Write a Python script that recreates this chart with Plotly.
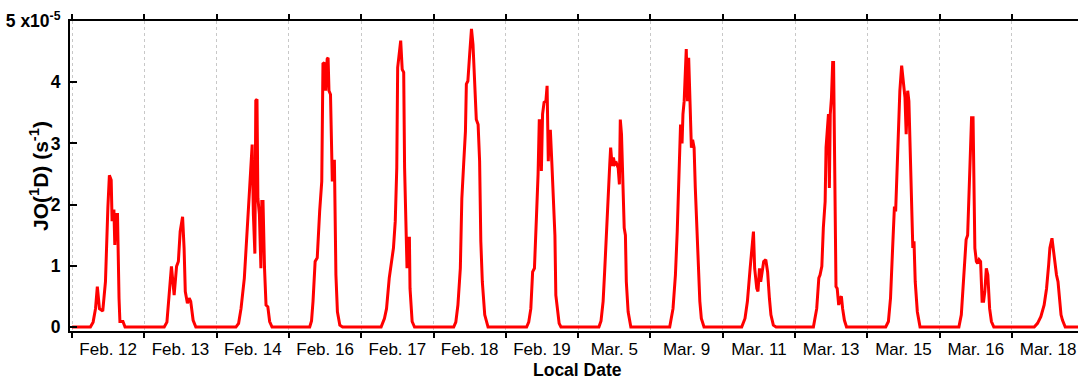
import plotly.graph_objects as go

# Day labels (categorical days, concatenated)
day_labels = ["Feb. 12", "Feb. 13", "Feb. 14", "Feb. 16", "Feb. 17", "Feb. 18", "Feb. 19",
              "Mar. 5", "Mar. 9", "Mar. 11", "Mar. 13", "Mar. 15", "Mar. 16", "Mar. 18"]

# Local hour of day and JO(1D) in units of 1e-5 s^-1
feb12_h = [0, 6.1, 7.0, 7.8, 8.4, 9.1, 10.2, 11.1, 11.9, 12.4, 13.0, 13.3, 13.9, 14.2, 14.6, 15.1, 15.6, 15.9, 16.9, 17.6, 24]
feb12_v = [0, 0, 0.08, 0.3, 0.66, 0.3, 0.26, 0.74, 1.95, 2.48, 2.4, 1.73, 1.92, 1.34, 1.84, 1.84, 0.47, 0.09, 0.09, 0, 0]

feb13_h = [0, 6.6, 7.5, 8.2, 9.0, 9.9, 10.7, 11.3, 11.9, 12.7, 13.2, 13.6, 14.3, 14.9, 15.4, 16.2, 17.1, 24]
feb13_v = [0, 0, 0.08, 0.58, 0.99, 0.52, 0.99, 1.07, 1.56, 1.8, 1.29, 0.58, 0.39, 0.47, 0.42, 0.11, 0, 0]

feb14_h = [0, 6.4, 7.3, 8.1, 9.2, 10.0, 10.9, 11.8, 12.2, 12.7, 13.0, 13.4, 13.7, 14.2, 14.7, 15.0, 15.4, 15.9, 16.4, 17.0, 17.6, 18.4, 24]
feb14_v = [0, 0, 0.06, 0.3, 0.8, 1.4, 2.22, 2.98, 1.84, 1.2, 3.7, 3.72, 2.1, 1.84, 0.96, 2.05, 2.05, 0.96, 0.36, 0.33, 0.09, 0, 0]

feb16_h = [0, 6.9, 7.5, 8.0, 8.7, 9.4, 10.2, 10.9, 11.3, 11.8, 12.2, 12.7, 13.0, 13.3, 13.8, 14.4, 14.8, 15.1, 15.6, 16.1, 16.9, 17.8, 24]
feb16_v = [0, 0, 0.1, 0.42, 1.07, 1.13, 1.89, 2.38, 4.3, 4.32, 3.86, 4.38, 4.4, 3.86, 3.8, 2.38, 2.71, 2.71, 0.85, 0.25, 0.03, 0, 0]

feb17_h = [0, 6.6, 7.7, 8.4, 9.3, 9.9, 10.7, 11.3, 11.8, 12.1, 12.7, 13.1, 13.6, 14.1, 14.4, 14.9, 15.2, 15.6, 16.0, 16.2, 16.9, 17.7, 24]
feb17_v = [0, 0, 0.14, 0.3, 0.8, 1.04, 1.29, 1.73, 2.6, 4.24, 4.46, 4.68, 4.21, 4.16, 2.6, 1.48, 0.96, 1.45, 1.45, 0.63, 0.09, 0, 0]

feb18_h = [0, 6.7, 7.4, 8.1, 8.9, 9.4, 10.0, 10.6, 10.9, 11.4, 12.0, 12.6, 13.1, 13.7, 14.2, 14.8, 15.3, 15.7, 16.2, 17.0, 18.1, 24]
feb18_v = [0, 0, 0.08, 0.36, 0.96, 2.1, 2.66, 3.2, 3.97, 4.02, 4.46, 4.87, 4.62, 4.02, 3.39, 3.31, 2.71, 1.4, 0.74, 0.2, 0, 0]

feb19_h = [0, 6.9, 7.6, 8.3, 8.9, 9.5, 10.2, 10.7, 11.1, 11.5, 11.8, 12.2, 12.7, 13.3, 13.7, 14.1, 14.4, 14.8, 15.3, 15.7, 16.3, 16.6, 17.1, 17.7, 18.3, 24]
feb19_v = [0, 0, 0.08, 0.3, 0.9, 0.96, 1.84, 2.49, 3.37, 3.37, 2.55, 3.48, 3.67, 3.69, 3.94, 2.71, 3.2, 3.2, 2.66, 2.1, 1.5, 0.52, 0.3, 0.06, 0, 0]

mar05_h = [0, 6.9, 7.6, 8.3, 8.8, 9.4, 10.0, 10.5, 10.8, 11.3, 11.7, 12.2, 12.7, 13.3, 13.7, 14.0, 14.4, 14.8, 15.3, 15.7, 16.0, 16.6, 17.5, 24]
mar05_v = [0, 0, 0.1, 0.42, 0.9, 1.62, 2.05, 2.66, 2.93, 2.63, 2.77, 2.66, 2.68, 2.6, 2.33, 3.39, 3.15, 2.38, 1.62, 1.5, 0.74, 0.25, 0, 0]

mar09_h = [0, 6.4, 7.5, 8.3, 8.9, 9.4, 10.0, 10.5, 10.8, 11.2, 11.5, 11.9, 12.3, 12.7, 13.1, 13.6, 14.0, 14.5, 14.9, 15.4, 15.8, 16.4, 16.9, 17.8, 24]
mar09_v = [0, 0, 0.3, 0.85, 1.56, 2.38, 3.31, 3.0, 3.48, 3.69, 4.19, 4.54, 3.69, 4.4, 3.75, 2.93, 3.06, 2.93, 2.27, 1.56, 0.96, 0.42, 0.14, 0, 0]

mar11_h = [0, 6.3, 7.4, 8.2, 9.1, 9.7, 10.2, 10.6, 11.3, 11.7, 12.2, 12.6, 13.1, 13.6, 14.3, 14.9, 15.5, 16.0, 16.8, 17.7, 24]
mar11_v = [0, 0, 0.14, 0.42, 0.96, 1.34, 1.56, 0.96, 0.63, 0.58, 0.96, 0.74, 0.9, 1.07, 1.1, 0.9, 0.47, 0.2, 0.03, 0, 0]

mar13_h = [0, 6.1, 7.2, 7.9, 8.3, 8.9, 9.4, 10.0, 10.3, 10.7, 11.1, 11.4, 11.7, 12.1, 12.5, 12.8, 13.2, 13.4, 13.6, 14.0, 14.5, 14.9, 15.4, 15.8, 16.4, 17.1, 24]
mar13_v = [0, 0, 0.3, 0.8, 0.85, 0.99, 1.62, 2.05, 2.93, 3.31, 3.48, 2.27, 3.48, 3.75, 4.32, 4.32, 2.66, 1.34, 0.66, 0.63, 0.36, 0.47, 0.5, 0.3, 0.11, 0, 0]

mar15_h = [0, 6.1, 7.0, 7.7, 8.4, 8.6, 9.0, 9.4, 9.8, 10.3, 10.8, 11.4, 12.0, 12.5, 12.9, 13.4, 13.8, 14.2, 14.7, 15.1, 15.5, 15.9, 16.6, 17.5, 24]
mar15_v = [0, 0, 0.09, 0.47, 1.29, 1.62, 1.97, 1.89, 2.38, 3.09, 3.86, 4.27, 4.02, 3.75, 3.15, 3.86, 3.69, 2.93, 2.38, 1.29, 1.4, 0.74, 0.25, 0, 0]

mar16_h = [0, 6.4, 7.2, 7.7, 8.3, 8.8, 9.3, 9.7, 10.2, 10.6, 11.1, 11.4, 11.7, 12.2, 12.6, 13.1, 13.6, 14.1, 14.6, 15.0, 15.5, 16.0, 16.6, 17.2, 18.0, 24]
mar16_v = [0, 0, 0.2, 0.63, 1.07, 1.43, 1.5, 2.22, 2.93, 3.42, 3.42, 2.66, 1.29, 1.07, 1.04, 1.1, 1.07, 0.42, 0.42, 0.58, 0.96, 0.85, 0.3, 0.09, 0, 0]

mar18_h = [0, 7.4, 8.5, 9.6, 10.7, 11.5, 12.2, 12.6, 13.3, 13.7, 14.3, 14.8, 15.3, 15.7, 16.3, 16.8, 17.7, 24]
mar18_v = [0, 0, 0.06, 0.17, 0.36, 0.63, 1.02, 1.29, 1.45, 1.29, 0.96, 0.85, 0.74, 0.47, 0.2, 0.11, 0, 0]

day_hours = [feb12_h, feb13_h, feb14_h, feb16_h, feb17_h, feb18_h, feb19_h,
             mar05_h, mar09_h, mar11_h, mar13_h, mar15_h, mar16_h, mar18_h]
day_values = [feb12_v, feb13_v, feb14_v, feb16_v, feb17_v, feb18_v, feb19_v,
              mar05_v, mar09_v, mar11_v, mar13_v, mar15_v, mar16_v, mar18_v]

y_tick_vals = [0, 1, 2, 3, 4, 5]
y_tick_text = ["0", "1", "2", "3", "4", "5 x10<sup>-5</sup>"]

# Build continuous series: x = day index + hour/24
xs, ys = [], []
for i, (hh, vv) in enumerate(zip(day_hours, day_values)):
    for h, v in zip(hh, vv):
        xs.append(i + h / 24.0)
        ys.append(v)

FONT = "Liberation Sans, Arial, Helvetica, sans-serif"

fig = go.Figure()
fig.add_trace(go.Scatter(x=xs, y=ys, mode="lines",
                         line=dict(color="#ff0000", width=3),
                         hoverinfo="skip", showlegend=False))

n_days = len(day_labels)
fig.update_layout(
    width=1078, height=379,
    margin=dict(l=70, r=0, t=21, b=48),
    paper_bgcolor="white", plot_bgcolor="white",
    font=dict(family=FONT, color="black"),
    xaxis=dict(
        range=[-0.028, 13.914],
        tickmode="array",
        tickvals=[i + 0.5 for i in range(n_days)],
        ticktext=day_labels,
        ticks="",
        showgrid=False,
        zeroline=False,
        showline=True, linecolor="black", linewidth=2,
        mirror="allticks",
        tickfont=dict(size=17, family=FONT, color="black"),
        ticklabelstandoff=2,
        minor=dict(
            tickmode="array",
            tickvals=list(range(n_days + 1)),
            ticks="outside", ticklen=5, tickwidth=2, tickcolor="black",
            showgrid=True, gridcolor="#c8c8c8", griddash="dot", gridwidth=1,
        ),
    ),
    yaxis=dict(
        range=[-0.065, 5.0],
        tickmode="array",
        tickvals=y_tick_vals,
        ticktext=y_tick_text,
        ticks="inside", ticklen=7, tickwidth=2, tickcolor="black",
        showgrid=False, zeroline=False,
        showline=True, linecolor="black", linewidth=2,
        mirror=False,
        tickfont=dict(size=17.5, family=FONT, color="black", weight="bold"),
        ticklabelstandoff=4,
    ),
    annotations=[
        dict(text="<b>JO(<sup>1</sup>D) (s<sup>-1</sup>)</b>", textangle=-90,
             xref="paper", yref="paper", x=(39 - 70) / 1008, y=0.5,
             xanchor="center", yanchor="middle", showarrow=False,
             font=dict(size=21, family=FONT, color="black")),
        dict(text="<b>Local Date</b>",
             xref="paper", yref="paper", x=(577 - 70) / 1008, y=(331 - 370) / 310,
             xanchor="center", yanchor="middle", showarrow=False,
             font=dict(size=17.5, family=FONT, color="black")),
    ],
)

fig.write_html("out.html")
